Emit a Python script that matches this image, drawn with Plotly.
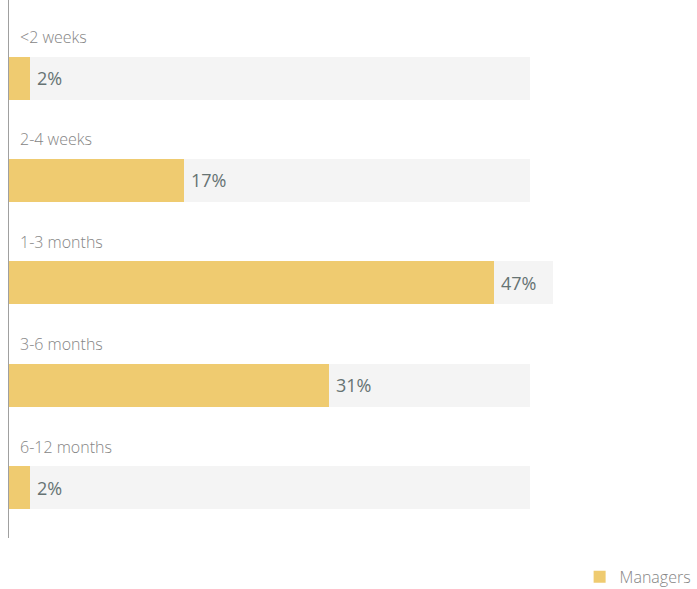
import plotly.graph_objects as go

# Time-to-fill survey results (share of managers, %)
categories = ["<2 weeks", "2-4 weeks", "1-3 months", "3-6 months", "6-12 months"]
managers = [2, 17, 47, 31, 2]
# Length of the light background track behind each bar (widened where the label runs past it)
track = [50.5, 50.5, 52.7, 50.5, 50.5]

BAR_COLOR = "#EFCB70"
TRACK_COLOR = "#F4F4F4"
LABEL_COLOR = "#858585"
VALUE_COLOR = "#667373"
FONT = "Open Sans"

fig = go.Figure()

fig.add_trace(go.Bar(
    y=categories, x=track, orientation="h",
    marker=dict(color=TRACK_COLOR, line=dict(width=0)),
    width=0.42, showlegend=False, hoverinfo="skip",
))
fig.add_trace(go.Bar(
    y=categories, x=managers, orientation="h", name="Managers",
    marker=dict(color=BAR_COLOR, line=dict(width=0)),
    width=0.42,
))

annotations = []
for cat, val in zip(categories, managers):
    # category name above the bar
    annotations.append(dict(
        x=0, y=cat, xref="x", yref="y", text=cat, showarrow=False,
        xanchor="left", yanchor="middle", xshift=9, yshift=41,
        font=dict(family=FONT, size=16, color=LABEL_COLOR, weight=300),
    ))
    # value label just past the bar end
    annotations.append(dict(
        x=val, y=cat, xref="x", yref="y", text=f"{val}%", showarrow=False,
        xanchor="left", yanchor="middle", xshift=5, yshift=0,
        font=dict(family=FONT, size=18, color=VALUE_COLOR, weight=400),
    ))

fig.update_layout(
    width=697, height=589,
    margin=dict(l=9, r=0, t=0, b=51, pad=0, autoexpand=False),
    paper_bgcolor="white", plot_bgcolor="white",
    barmode="overlay",
    bargap=0,
    showlegend=True,
    legend=dict(
        orientation="h", x=0.998, xanchor="right", y=-0.072, yanchor="middle",
        font=dict(family=FONT, size=16, color=LABEL_COLOR, weight=300),
        itemwidth=30, bgcolor="rgba(0,0,0,0)",
    ),
    xaxis=dict(range=[0, 66.7], visible=False, fixedrange=True),
    yaxis=dict(
        type="category", autorange=False, range=[4.49, -0.762],
        showticklabels=False, showgrid=False, zeroline=False,
        showline=True, linecolor="#A0A0A0", linewidth=1, ticks="",
    ),
    annotations=annotations,
    hovermode=False,
)

fig.write_html("out.html")
